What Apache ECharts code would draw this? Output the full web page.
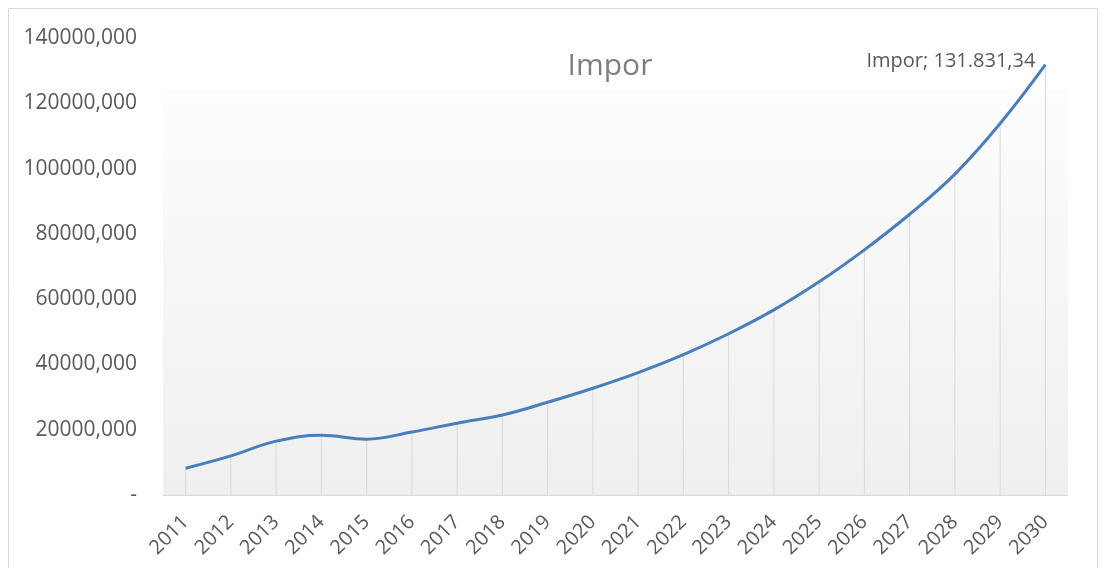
<!DOCTYPE html>
<html>
<head>
<meta charset="utf-8">
<title>Impor</title>
<style>
  html, body { margin: 0; padding: 0; background: #ffffff; }
  #chart { width: 1105px; height: 568px; }
</style>
<script src="https://cdn.jsdelivr.net/npm/echarts@6/dist/echarts.min.js"></script>
</head>
<body>
<div id="chart"></div>
<script>
// Years on the category axis
const years = ['2011', '2012', '2013', '2014', '2015', '2016', '2017', '2018', '2019', '2020',
               '2021', '2022', '2023', '2024', '2025', '2026', '2027', '2028', '2029', '2030'];

// Import values per year
const impor = [8200, 12000, 16500, 18300, 17100, 19300, 22000, 24500, 28400, 32700,
               37500, 43000, 49400, 56700, 65300, 75100, 86000, 98300, 113800, 131831.34];

// Value axis range and step
const yMin = 0;
const yMax = 140000;
const yStep = 20000;

const seriesName = 'Impor';
const textColor = '#595959';
const fontFamily = '"Open Sans", "Noto Sans", sans-serif';

// 131831.34 -> "131.831,34"
function formatEuro(v) {
  const parts = v.toFixed(2).split('.');
  const intPart = parts[0].replace(/\B(?=(\d{3})+(?!\d))/g, '.');
  return intPart + ',' + parts[1];
}

const lastIndex = impor.length - 1;

const chart = echarts.init(document.getElementById('chart'), null, { renderer: 'canvas' });

chart.setOption({
  animation: false,
  backgroundColor: '#ffffff',
  title: {
    text: seriesName,
    left: 605,
    top: 46,
    textAlign: 'center',
    textStyle: { color: '#7f7f7f', fontSize: 30, fontWeight: 'normal', fontFamily: fontFamily }
  },
  graphic: [{
    type: 'rect',
    silent: true,
    z: -10,
    shape: { x: 8.5, y: 8.5, width: 1089, height: 600 },
    style: { fill: 'none', stroke: '#d9d9d9', lineWidth: 1 }
  }],
  grid: {
    left: 163,
    right: 37,
    top: 38,
    bottom: 73,
    show: true,
    borderWidth: 0,
    backgroundColor: {
      type: 'linear', x: 0, y: 0, x2: 0, y2: 1,
      colorStops: [
        { offset: 0, color: '#ffffff' },
        { offset: 0.113, color: '#ffffff' },
        { offset: 0.114, color: '#fdfdfd' },
        { offset: 1, color: '#efefef' }
      ]
    }
  },
  xAxis: {
    type: 'category',
    data: years,
    boundaryGap: true,
    axisLine: { show: true, lineStyle: { color: '#d9d9d9', width: 1 } },
    axisTick: { show: false },
    splitLine: { show: false },
    axisLabel: {
      rotate: 45,
      margin: 24,
      interval: 0,
      color: textColor,
      fontSize: 20,
      fontFamily: fontFamily
    }
  },
  yAxis: {
    type: 'value',
    min: yMin,
    max: yMax,
    interval: yStep,
    axisLine: { show: false },
    axisTick: { show: false },
    splitLine: { show: false },
    axisLabel: {
      margin: 26,
      color: textColor,
      fontSize: 21,
      fontFamily: fontFamily,
      formatter: v => v === 0 ? '-' : v + ',000'
    }
  },
  series: [
    {
      // drop lines from each point down to the axis
      name: seriesName + ' drop',
      type: 'bar',
      data: impor,
      barWidth: 1,
      silent: true,
      z: 1,
      itemStyle: { color: '#d9d9d9' }
    },
    {
      name: seriesName,
      type: 'line',
      data: impor,
      smooth: 0.4,
      showSymbol: false,
      symbol: 'none',
      z: 3,
      lineStyle: { color: '#4a7ebb', width: 3 },
      // value label at the last year
      endLabel: {
        show: true,
        align: 'right',
        verticalAlign: 'middle',
        distance: 0,
        offset: [-10, -3],
        color: textColor,
        fontSize: 20,
        fontFamily: fontFamily,
        formatter: p => p.seriesName + '; ' + formatEuro(impor[lastIndex])
      }
    }
  ]
});
</script>
</body>
</html>
